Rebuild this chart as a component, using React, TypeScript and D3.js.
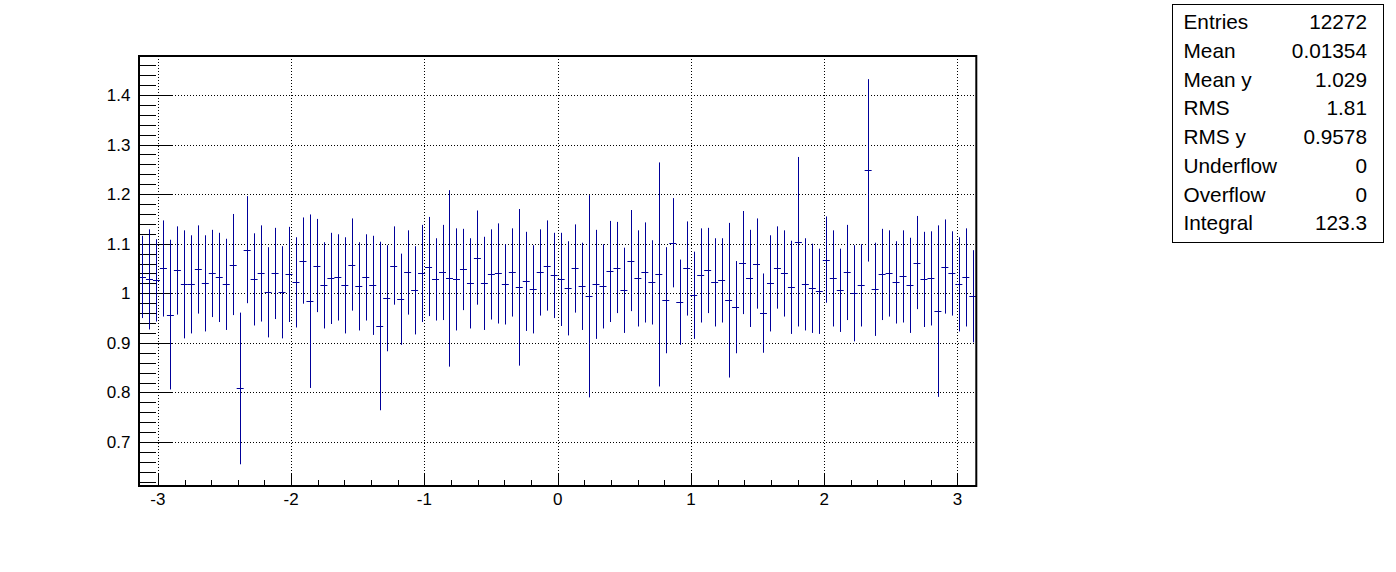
import React, { useEffect, useRef } from 'react';
import * as d3 from 'd3';

// 120 bins over [-pi, pi]
const xMin = -Math.PI;
const xMax = Math.PI;

const binValues = [
  1.033, 1.028, 1.026, 1.050, 0.957, 1.046, 1.018, 1.018, 1.048, 1.020,
  1.040, 1.032, 1.018, 1.058, 0.808, 1.088, 1.028, 1.040, 1.002, 1.040,
  1.002, 1.038, 1.022, 1.066, 0.984, 1.056, 1.016, 1.030, 1.032, 1.016,
  1.058, 1.014, 1.032, 1.016, 0.934, 0.990, 1.056, 0.988, 1.042, 1.006,
  1.040, 1.054, 1.028, 1.042, 1.030, 1.028, 1.048, 1.020, 1.072, 1.020,
  1.038, 1.040, 1.018, 1.042, 1.012, 1.024, 1.008, 1.042, 1.056, 1.036,
  1.028, 1.010, 1.050, 1.014, 0.994, 1.018, 1.014, 1.044, 1.052, 1.006,
  1.066, 1.030, 1.042, 1.022, 1.038, 0.986, 1.102, 0.982, 1.050, 0.996,
  1.036, 1.046, 1.022, 1.026, 0.986, 0.972, 1.062, 1.030, 1.060, 0.960,
  1.020, 1.052, 1.040, 1.012, 1.104, 1.018, 1.010, 1.004, 1.068, 1.030,
  1.006, 1.042, 1.000, 1.016, 1.248, 1.008, 1.038, 1.040, 1.022, 1.034,
  1.016, 1.062, 1.028, 1.030, 0.964, 1.054, 1.040, 1.018, 1.032, 0.994,
];

const binErrors = [
  0.083, 0.101, 0.083, 0.097, 0.151, 0.089, 0.109, 0.099, 0.089, 0.097,
  0.088, 0.090, 0.092, 0.102, 0.153, 0.108, 0.093, 0.097, 0.091, 0.092,
  0.093, 0.096, 0.091, 0.087, 0.175, 0.094, 0.087, 0.092, 0.087, 0.097,
  0.093, 0.089, 0.087, 0.100, 0.170, 0.107, 0.079, 0.092, 0.085, 0.089,
  0.098, 0.100, 0.083, 0.096, 0.178, 0.103, 0.082, 0.091, 0.095, 0.094,
  0.091, 0.101, 0.081, 0.089, 0.158, 0.100, 0.089, 0.087, 0.091, 0.086,
  0.094, 0.095, 0.089, 0.088, 0.204, 0.110, 0.085, 0.102, 0.092, 0.086,
  0.102, 0.097, 0.101, 0.085, 0.226, 0.107, 0.090, 0.086, 0.095, 0.088,
  0.095, 0.086, 0.089, 0.085, 0.156, 0.093, 0.104, 0.098, 0.091, 0.080,
  0.097, 0.083, 0.087, 0.094, 0.171, 0.093, 0.090, 0.086, 0.087, 0.097,
  0.084, 0.096, 0.097, 0.083, 0.184, 0.094, 0.092, 0.087, 0.083, 0.093,
  0.096, 0.094, 0.096, 0.095, 0.173, 0.095, 0.085, 0.095, 0.099, 0.093,
];

const xTicks = [-3, -2, -1, 0, 1, 2, 3];
const yTicks = [0.7, 0.8, 0.9, 1.0, 1.1, 1.2, 1.3, 1.4];

const statLabels = ['Entries', 'Mean', 'Mean y', 'RMS', 'RMS y', 'Underflow', 'Overflow', 'Integral'];
const statValues = ['12272', '0.01354', '1.029', '1.81', '0.9578', '0', '0', '123.3'];

const FONT = 'Liberation Sans, Arial, Helvetica, sans-serif';

export default function App() {
  const ref = useRef<SVGSVGElement>(null);

  useEffect(() => {
    const svg = d3.select(ref.current);
    svg.selectAll('*').remove();

    const left = 139, right = 976.3, top = 56, bottom = 486;
    const x = d3.scaleLinear().domain([xMin, xMax]).range([left, right]);
    const y = d3.scaleLinear().domain([0.6112, 1.4787]).range([bottom, top]);

    const nBins = binValues.length;
    const bw = (xMax - xMin) / nBins;

    // grid
    const grid = svg.append('g').attr('stroke', '#000').attr('stroke-width', 1).attr('stroke-dasharray', '1,2');
    xTicks.forEach((t) => {
      const px = Math.round(x(t)) + 0.5;
      grid.append('line').attr('x1', px).attr('x2', px).attr('y1', top).attr('y2', bottom);
    });
    yTicks.forEach((t) => {
      const py = Math.round(y(t)) + 0.5;
      grid.append('line').attr('x1', left).attr('x2', right).attr('y1', py).attr('y2', py);
    });

    // ticks
    const ticks = svg.append('g').attr('stroke', '#000').attr('stroke-width', 1);
    d3.range(-3.0, 3.01, 0.2).forEach((t) => {
      const major = Math.abs(t - Math.round(t)) < 1e-6;
      const px = Math.round(x(t)) + 0.5;
      ticks.append('line').attr('x1', px).attr('x2', px).attr('y1', bottom).attr('y2', bottom - (major ? 12 : 6));
    });
    d3.range(0.62, 1.4701, 0.02).forEach((t) => {
      const major = Math.abs(t * 10 - Math.round(t * 10)) < 1e-6;
      const py = Math.round(y(t)) + 0.5;
      ticks.append('line').attr('x1', left).attr('x2', left + (major ? 33 : 17)).attr('y1', py).attr('y2', py);
    });

    // histogram error bars
    const bars = svg.append('g').attr('stroke', '#000099').attr('stroke-width', 1);
    binValues.forEach((v, i) => {
      const lo = xMin + i * bw;
      const xc = Math.round(x(lo + bw / 2)) + 0.5;
      const yc = Math.round(y(v)) + 0.5;
      bars.append('line').attr('x1', xc).attr('x2', xc).attr('y1', y(v - binErrors[i])).attr('y2', y(v + binErrors[i]));
      bars.append('line').attr('x1', x(lo)).attr('x2', x(lo + bw)).attr('y1', yc).attr('y2', yc);
    });

    // frame
    svg.append('rect').attr('x', left).attr('y', top).attr('width', right - left).attr('height', bottom - top)
      .attr('fill', 'none').attr('stroke', '#000').attr('stroke-width', 2);

    // tick labels
    svg.append('g').selectAll('text').data(xTicks).enter().append('text')
      .attr('x', (d) => x(d)).attr('y', 505).attr('text-anchor', 'middle')
      .attr('font-family', FONT).attr('font-size', 17).text((d) => String(d));
    svg.append('g').selectAll('text').data(yTicks).enter().append('text')
      .attr('x', 130.5).attr('y', (d) => y(d) + 6).attr('text-anchor', 'end')
      .attr('font-family', FONT).attr('font-size', 17).text((d) => d3.format('~g')(d));

    // stats box
    svg.append('rect').attr('x', 1172.5).attr('y', 4.5).attr('width', 211).attr('height', 238)
      .attr('fill', '#fff').attr('stroke', '#000').attr('stroke-width', 1);
    statLabels.forEach((s, i) => {
      svg.append('text').attr('x', 1183.5).attr('y', 29.3 + i * 28.7)
        .attr('font-family', FONT).attr('font-size', 20.8).text(s);
      svg.append('text').attr('x', 1367).attr('y', 29.3 + i * 28.7).attr('text-anchor', 'end')
        .attr('font-family', FONT).attr('font-size', 20.8).text(statValues[i]);
    });
  }, []);

  return (
    <svg ref={ref} width={1396} height={572}
      style={{ position: 'absolute', left: 0, top: 0, background: '#fff' }} />
  );
}
